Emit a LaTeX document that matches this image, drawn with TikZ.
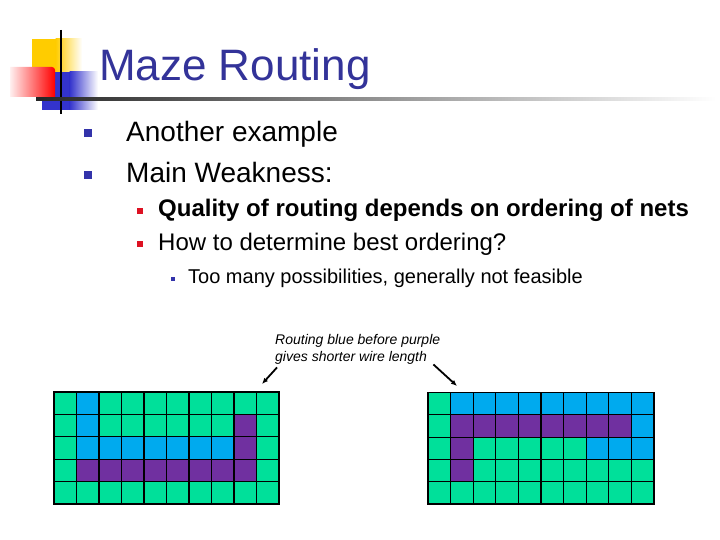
\documentclass[tikz,border=0pt]{standalone}
\usepackage{fontspec}
\setmainfont{Liberation Sans}
\usepackage{xcolor}
\usepackage{tikz}
\usetikzlibrary{arrows.meta, positioning, calc}

\definecolor{titleblue}{RGB}{51,51,153}
\definecolor{bulletblue}{RGB}{51,51,170}
\definecolor{bulletred}{RGB}{221,17,34}
\definecolor{cg}{RGB}{0,224,154}
\definecolor{cb}{RGB}{0,170,238}
\definecolor{cp}{RGB}{112,48,160}
\definecolor{logoyellow}{RGB}{255,204,0}
\definecolor{logored}{RGB}{255,0,0}
\definecolor{logoblue}{RGB}{51,51,204}

\begin{document}
\begin{tikzpicture}[x=1pt, y=-1pt,
        title/.style={anchor=base west, inner sep=0pt, text=titleblue, font=\fontsize{44}{53}\selectfont},
        level1/.style={anchor=base west, inner sep=0pt, font=\fontsize{28}{34}\selectfont},
        level2/.style={anchor=base west, inner sep=0pt, font=\fontsize{24}{29}\selectfont},
        level3/.style={anchor=base west, inner sep=0pt, font=\fontsize{20}{24}\selectfont},
        dot1/.style={rectangle, fill=bulletblue, minimum size=8pt, inner sep=0pt},
        dot2/.style={rectangle, fill=bulletred, minimum size=6.5pt, inner sep=0pt},
        dot3/.style={rectangle, fill=bulletblue, minimum size=4.5pt, inner sep=0pt},
        cell/.style={draw=black, line width=1.2pt},
        note/.style={anchor=north west, inner sep=0pt, align=left, font=\fontsize{14}{17}\selectfont\itshape},
        pointer/.style={-{Latex[length=6pt, width=5pt]}, line width=1.8pt}
    ]
        \useasboundingbox (0,0) rectangle (720,540);

        \fill[logoyellow] (32,39) rectangle (56,72);
        \shade[left color=logoyellow, right color=white] (55.5,39) rectangle (82,72);
        \fill[logoblue] (42,72) rectangle (70,110);
        \shade[left color=logoblue, right color=white] (69.5,72) rectangle (98,110);
        \shade[left color=red!6, right color=logored] (10,97) -- (10,67) [rounded corners=3pt] -- (55,67) [sharp corners] -- (55,97) -- cycle;
        \draw[line width=2pt] (61,30) -- (61,114);
        \shade[left color=black!85, right color=white] (36,97.5) rectangle (716,100.5);

        \node[title] (title) at (99,81) {Maze Routing};

        \node[level1] (another) at (126,142) {Another example};
        \node[level1] (weakness) at (126,183) {Main Weakness:};
        \node[level2] (quality) at (158,217) {\bfseries Quality of routing depends on ordering of nets};
        \node[level2] (howto) at (158,251) {How to determine best ordering?};
        \node[level3] (toomany) at (188,283) {Too many possibilities, generally not feasible};

        \node[dot1] (b1) at (88,133) {};
        \node[dot1] (b2) at (88,175) {};
        \node[dot2] (b3) at (140,211) {};
        \node[dot2] (b4) at (140,244) {};
        \node[dot3] (b5) at (173,279) {};

        \node[note] (note) at (275,334) {Routing blue before purple\\gives shorter wire length};
        \coordinate (lefttip) at (262,384);
        \coordinate (righttip) at (457,386);
        \draw[pointer] ($(note.south west)+(2,3)$) -- (lefttip);
        \draw[pointer] ($(note.south east)+(-7,0)$) -- (righttip);

        \begin{scope}[shift={(54,392)}]
            \foreach \cells [count=\r from 0] in {{g,b,g,g,g,g,g,g,g,g},{g,b,g,g,g,g,g,g,p,g},{g,b,b,b,b,b,b,b,p,g},{g,p,p,p,p,p,p,p,p,g},{g,g,g,g,g,g,g,g,g,g}}
                \foreach \c [count=\k from 0] in \cells
                    \draw[cell, fill=c\c] (22.5*\k,22.4*\r) rectangle ++(22.5,22.4);
        \end{scope}

        \begin{scope}[shift={(428,392.5)}]
            \foreach \cells [count=\r from 0] in {{g,b,b,b,b,b,b,b,b,b},{g,p,p,p,p,p,p,p,p,b},{g,p,g,g,g,g,g,b,b,b},{g,p,g,g,g,g,g,g,g,g},{g,g,g,g,g,g,g,g,g,g}}
                \foreach \c [count=\k from 0] in \cells
                    \draw[cell, fill=c\c] (22.6*\k,22.3*\r) rectangle ++(22.6,22.3);
        \end{scope}
    \end{tikzpicture}
\end{document}
